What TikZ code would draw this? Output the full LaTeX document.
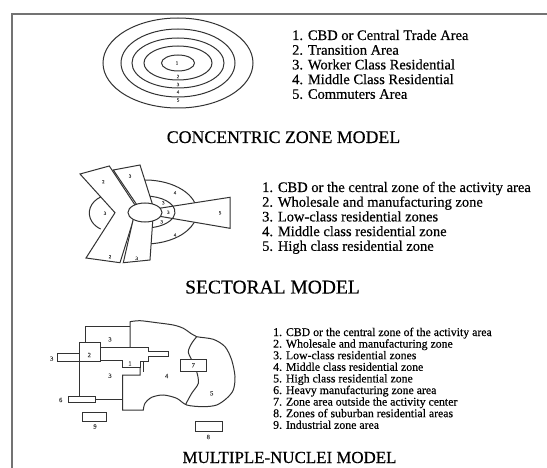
\documentclass[tikz,border=0pt]{standalone}
\usepackage{fontspec}
\setmainfont{Liberation Serif}[FakeBold=0.4]
\begin{document}
\begin{tikzpicture}[x=1pt,y=-1pt,
  ln/.style={draw=black!80, line width=1pt},
  num/.style={font=\fontsize{5}{5}\selectfont, inner sep=0pt, text=black!75},
  nnum/.style={font=\fontsize{6.5}{6.5}\selectfont, inner sep=0pt, text=black!75},
  leg/.style={font=\fontsize{14.5}{14.5}\selectfont, anchor=base west, inner sep=0pt, text=black},
  legs/.style={font=\fontsize{11.8}{11.8}\selectfont, anchor=base west, inner sep=0pt, text=black},
  ttl/.style={anchor=base, inner sep=0pt, text=black}]
\useasboundingbox (0,0) rectangle (547,468);
\fill[white] (0,0) rectangle (547,468);
\draw[black!55, line width=2pt] (12,468) -- (12,14) -- (548,14);

% ---------- concentric ----------
\foreach \rx/\ry in {75/45,57/34,46/25,34/17,16.5/8}
  \draw[ln] (178,63) ellipse[x radius=\rx, y radius=\ry];
\node[num] (c1) at (177,63) {1};
\node[num] (c2) at (178,76.5) {2};
\node[num] (c3) at (178,84.5) {3};
\node[num] (c4) at (178,92) {4};
\node[num] (c5) at (178,100) {5};

\node[leg] (l11) at (292,40) {1. CBD or Central Trade Area};
\node[leg] (l12) at (292,54.7) {2. Transition Area};
\node[leg] (l13) at (292,69.4) {3. Worker Class Residential};
\node[leg] (l14) at (292,84.1) {4. Middle Class Residential};
\node[leg] (l15) at (292,98.8) {5. Commuters Area};
\node[ttl, font=\fontsize{17.8}{18}\selectfont] (t1) at (283.5,143) {CONCENTRIC ZONE MODEL};

% ---------- sectoral ----------
\draw[ln] (112,213) ++(-118:22.7 and 18.5) arc[start angle=-118, end angle=-240, x radius=22.7, y radius=18.5];
\draw[ln] (145,212) ++(-100:52 and 32) arc[start angle=-100, end angle=100, x radius=52, y radius=32];
\draw[ln, fill=white] (158,208.5) -- (230,197.3) -- (230,228.3) -- (158,216) -- cycle;
\draw[ln] (145,212) ++(-100:30 and 16) arc[start angle=-100, end angle=100, x radius=30, y radius=16];
\draw[ln, fill=white] (80,174) -- (109.3,166) -- (137,208) -- (134,218) -- (120,262.7) -- (86,258) -- (115,212.7) -- cycle;
\draw[ln, fill=white] (113.3,170) -- (140,165) -- (153,206) -- (139,208) -- cycle;
\draw[ln, fill=white] (134,216) -- (123.3,262.7) -- (150,260) -- (153,217) -- cycle;
\draw[ln, fill=white] (145,212.5) ellipse[x radius=17, y radius=9.5];

\node[num] (s2a) at (103.3,181.7) {2};
\node[num] (s3a) at (130,176) {3};
\node[num] (s3l) at (105,213.3) {3};
\node[num] (s2b) at (110,256.7) {2};
\node[num] (s3b) at (136.7,258.3) {3};
\node[num] (s4a) at (175,192.7) {4};
\node[num] (s4b) at (175,235) {4};
\node[num] (s5) at (220,212.7) {5};
\node[num] (s3i1) at (163.3,202.7) {3};
\node[num] (s3i2) at (168.3,212.3) {3};
\node[num] (s3i3) at (161.7,221.7) {3};

\node[leg] (l21) at (262,192) {1. CBD or the central zone of the activity area};
\node[leg] (l22) at (262,206.7) {2. Wholesale and manufacturing zone};
\node[leg] (l23) at (262,221.4) {3. Low-class residential zones};
\node[leg] (l24) at (262,236.1) {4. Middle class residential zone};
\node[leg] (l25) at (262,250.8) {5. High class residential zone};
\node[ttl, font=\fontsize{19.5}{20}\selectfont] (t2) at (272.5,293.5) {SECTORAL MODEL};

% ---------- multiple nuclei ----------
\draw[ln] (85,342.3) -- (85,326.7) -- (130,326.7);
\draw[ln] (130,347.3) -- (130,321.7)
  plot[smooth] coordinates {(130,321.7) (140,320.7) (156.7,322.7) (173.3,325) (183.3,328.3) (191.7,334) (196.7,336.7) (213.3,339.3) (225,346.7) (231.7,360) (235,376.7) (233.3,390) (226.7,398.3) (216.7,405) (203.3,406.7) (186.7,405) (176.7,398.3) (163.3,395) (151.7,397.3) (145,403.3) (143.3,410)}
  -- (122.7,410) -- (122.7,375) -- (140,375) -- (140,367.3);
\draw[ln] (100,347.3) -- (148.3,347.3) -- (148.3,351.7) -- (168.3,351.7) -- (168.3,356) -- (148.3,356) -- (148.3,361.7) -- (140,361.7) -- (140,367.3) -- (122.7,367.3) -- (122.7,360) -- (100,360);
\draw[ln] (143.3,361.7) -- (143.3,372);
\draw[ln] plot[smooth] coordinates {(196.7,336.7) (191.7,343.3) (188.3,351.7) (191.7,360) (196.7,371.7) (198.3,383.3) (191.7,393.3) (185.5,404.6)};
\draw[ln] (79.3,342.3) rectangle (100,361.7);
\draw[ln] (57.3,353.3) rectangle (79.3,361.7);
\draw[ln] (79.3,361.7) -- (79.3,396.7);
\draw[ln] (68.3,396.7) rectangle (95,402.3);
\draw[ln] (95,399.3) -- (122.7,399.3);
\draw[ln, fill=white] (180.7,359.3) rectangle (206,371);
\draw[ln] (82.7,412.7) rectangle (106.7,421);
\draw[ln] (195,421.7) rectangle (222.7,431.7);

\node[nnum] (n3l) at (51.7,358.5) {3};
\node[nnum] (n2) at (89.3,355) {2};
\node[nnum] (n3t) at (110,339.3) {3};
\node[nnum] (n1) at (130,363.5) {1};
\node[nnum] (n3c) at (110,375.7) {3};
\node[nnum] (n4) at (166.7,376) {4};
\node[nnum] (n5) at (211.7,393.3) {5};
\node[nnum] (n7) at (193.3,365.2) {7};
\node[nnum] (n6) at (60.7,400) {6};
\node[nnum] (n9) at (95,426.5) {9};
\node[nnum] (n8) at (208.3,437) {8};

\node[legs] (l31) at (273,336) {1. CBD or the central zone of the activity area};
\node[legs] (l32) at (273,347.6) {2. Wholesale and manufacturing zone};
\node[legs] (l33) at (273,359.2) {3. Low-class residential zones};
\node[legs] (l34) at (273,370.8) {4. Middle class residential zone};
\node[legs] (l35) at (273,382.4) {5. High class residential zone};
\node[legs] (l36) at (273,394) {6. Heavy manufacturing zone area};
\node[legs] (l37) at (273,405.6) {7. Zone area outside the activity center};
\node[legs] (l38) at (273,417.2) {8. Zones of suburban residential areas};
\node[legs] (l39) at (273,428.8) {9. Industrial zone area};
\node[ttl, font=\fontsize{16.9}{17}\selectfont] (t3) at (289.5,463) {MULTIPLE-NUCLEI MODEL};
\end{tikzpicture}
\end{document}
